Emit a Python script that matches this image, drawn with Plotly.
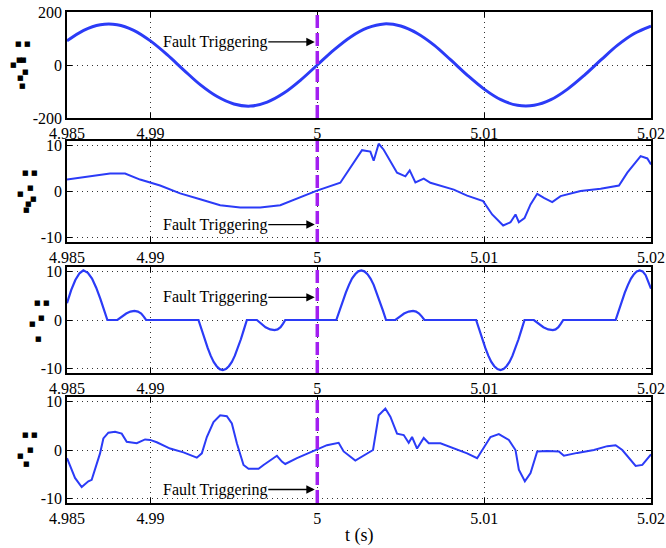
import plotly.graph_objects as go

# ---------------- data ----------------
t1 = [4.985 + 0.001 * k for k in range(36)]
v1 = [91, 131, 152, 152, 131, 91, 39, -19, -75, -119, -147, -155, -140, -106, -57, 0,
      57, 106, 140, 155, 147, 119, 75, 19, -39, -91, -131, -152, -152, -131, -91, -39,
      19, 75, 119, 147]

t2 = [4.98500, 4.98638, 4.98758, 4.98848, 4.98938, 4.99058, 4.99178, 4.99298, 4.99418,
      4.99538, 4.99658, 4.99778, 4.99898, 4.99998, 5.00138, 5.00218, 5.00268, 5.00318,
      5.00338, 5.00368, 5.00398, 5.00478, 5.00528, 5.00554, 5.00588, 5.00638, 5.00678,
      5.00818, 5.00898, 5.00994, 5.01048, 5.01114, 5.01158, 5.01188, 5.01208, 5.01242,
      5.01278, 5.01318, 5.01358, 5.01408, 5.01458, 5.01578, 5.01698, 5.01808, 5.01858,
      5.01938, 5.01978, 5.02000]
v2 = [2.6, 3.3, 3.9, 3.9, 2.6, 1.3, -0.4, -1.7, -3.0,
      -3.5, -3.5, -3.0, -1.3, 0.2, 1.9, 6.2, 9.0, 8.7,
      6.7, 10.4, 9.1, 4.1, 3.3, 4.6, 2.0, 2.8, 1.9,
      0.4, -0.9, -2.1, -5.0, -7.4, -6.7, -5.0, -6.7, -5.8,
      -2.8, -0.5, -1.4, -2.3, -1.0, 0.1, 0.6, 1.3, 4.1,
      7.7, 7.2, 5.9]

t3 = [4.98500, 4.98525, 4.98550, 4.98575, 4.98598, 4.98625, 4.98650, 4.98675, 4.98700,
      4.98722, 4.98742, 4.98802, 4.98830, 4.98855, 4.98880, 4.98904, 4.98925, 4.98945,
      4.98960, 4.98974, 4.99288, 4.99306, 4.99325, 4.99343, 4.99361, 4.99379, 4.99397,
      4.99415, 4.99434, 4.99452, 4.99470, 4.99488, 4.99506, 4.99524, 4.99542, 4.99560,
      4.99578, 4.99638, 4.99665, 4.99690, 4.99718, 4.99744, 4.99762, 4.99780, 4.99795,
      4.99808, 5.00114, 5.00133, 5.00152, 5.00171, 5.00190, 5.00208, 5.00227, 5.00245,
      5.00264, 5.00282, 5.00301, 5.00319, 5.00338, 5.00356, 5.00375, 5.00393, 5.00412,
      5.00468, 5.00495, 5.00520, 5.00548, 5.00574, 5.00592, 5.00610, 5.00627, 5.00642,
      5.00952, 5.00970, 5.00988, 5.01007, 5.01025, 5.01043, 5.01061, 5.01080, 5.01098,
      5.01116, 5.01134, 5.01152, 5.01170, 5.01188, 5.01206, 5.01224, 5.01242, 5.01298,
      5.01326, 5.01355, 5.01384, 5.01412, 5.01428, 5.01445, 5.01460, 5.01474, 5.01788,
      5.01806, 5.01825, 5.01843, 5.01862, 5.01880, 5.01898, 5.01915, 5.01932, 5.01950,
      5.01968, 5.01985, 5.02000]
v3 = [3.5, 6.2, 8.3, 9.7, 10.3, 9.8, 8.6, 6.7, 4.4,
      2.0, 0, 0, 0.7, 1.35, 1.75, 1.9, 1.75, 1.35,
      0.7, 0, 0, -2.0, -4.0, -5.8, -7.4, -8.7, -9.6,
      -10.2, -10.4, -10.2, -9.6, -8.7, -7.4, -5.8, -4.0, -2.0,
      0, 0, -0.75, -1.5, -1.95, -2.1, -1.95, -1.5, -0.75,
      0, 0, 2.0, 3.9, 5.7, 7.3, 8.6, 9.5, 10.1,
      10.3, 10.1, 9.5, 8.6, 7.3, 5.7, 3.9, 2.0, 0,
      0, 0.7, 1.35, 1.75, 1.9, 1.75, 1.35, 0.7, 0,
      0, -2.0, -4.0, -5.8, -7.4, -8.7, -9.6, -10.2, -10.4,
      -10.2, -9.6, -8.7, -7.4, -5.8, -4.0, -2.0, 0, 0,
      -0.75, -1.5, -1.95, -2.1, -1.95, -1.5, -0.75, 0, 0,
      2.0, 3.9, 5.7, 7.3, 8.6, 9.5, 10.1, 10.3, 10.1,
      9.3, 8.0, 6.5]

t4 = [4.98500, 4.98548, 4.98588, 4.98628, 4.98648, 4.98678, 4.98698, 4.98718, 4.98748,
      4.98788, 4.98828, 4.98858, 4.98918, 4.98968, 4.98998, 4.99038, 4.99118, 4.99198,
      4.99278, 4.99308, 4.99338, 4.99378, 4.99418, 4.99458, 4.99488, 4.99518, 4.99558,
      4.99588, 4.99648, 4.99678, 4.99718, 4.99758, 4.99788, 4.99808, 4.99878, 4.99998,
      5.00058, 5.00128, 5.00158, 5.00228, 5.00298, 5.00334, 5.00368, 5.00408, 5.00438,
      5.00478, 5.00518, 5.00548, 5.00568, 5.00598, 5.00638, 5.00668, 5.00738, 5.00818,
      5.00898, 5.00958, 5.00988, 5.01038, 5.01088, 5.01148, 5.01188, 5.01208, 5.01244,
      5.01278, 5.01318, 5.01378, 5.01448, 5.01478, 5.01558, 5.01658, 5.01738, 5.01788,
      5.01828, 5.01878, 5.01908, 5.01948, 5.02000]
v4 = [-1.7, -5.8, -7.7, -6.5, -6.2, -2.7, -0.7, 2.4, 3.6,
      3.8, 3.4, 1.7, 1.4, 2.2, 2.1, 1.6, 0.3, -0.5,
      -1.6, -0.7, 2.7, 5.8, 7.2, 7.0, 5.5, 1.4, -3.1,
      -3.9, -3.9, -3.1, -2.1, -1.2, -2.4, -2.9, -1.7, 0.0,
      1.0, 1.5, -0.3, -2.2, -0.7, 0.0, 7.2, 8.6, 6.9,
      3.4, 3.1, 1.5, 2.7, 0.3, 2.5, 1.4, 1.4, 0.3,
      -0.7, -1.7, 0.0, 2.7, 3.3, 2.1, 0.0, -4.1, -6.5,
      -4.8, -0.3, -0.2, -0.3, -1.2, -0.6, 0.0, 0.8, 1.0,
      0.0, -2.1, -3.3, -3.1, -0.9]

x_ticks = [4.985, 4.99, 5.0, 5.01, 5.02]
x_tick_labels = ["4.985", "4.99", "5", "5.01", "5.02"]
y_ticks_1 = [-200, 0, 200]
y_labels_1 = ["-200", "0", "200"]
y_ticks_2 = [-10, 0, 10]
y_labels_2 = ["-10", "0", "10"]
fault_time = 5.0
note_text = "Fault Triggering"
note_y = [87, -7.2, 4.7, -8.2]
x_title = "t (s)"

# ---------------- layout helpers ----------------
W, H = 666, 548
ML, MR, MT, MB = 67, 15, 12, 45
PW, PH = W - ML - MR, H - MT - MB

def px(x):
    return (x - ML) / PW

def py(y):
    return (H - MB - y) / PH

domains = [[py(118), 1.0], [py(242), py(141)], [py(373), py(267)], [0.0, py(397)]]
series = [(t1, v1, 3, "spline"), (t2, v2, 2, "linear"), (t3, v3, 2.2, "linear"),
          (t4, v4, 2, "linear")]
yranges = [[-200, 200], [-11, 11], [-11, 11], [-11, 11]]

FONT = "Liberation Serif"
BLUE = "#2b3bf7"
PURPLE = "#a21ff0"

fig = go.Figure()
for i, (tx, vy, lw, shp) in enumerate(series):
    n = "" if i == 0 else str(i + 1)
    fig.add_trace(go.Scatter(
        x=tx, y=vy, mode="lines", xaxis="x" + n, yaxis="y" + n,
        line=dict(color=BLUE, width=lw, shape=shp),
        showlegend=False, hoverinfo="skip"))

axis_common = dict(
    showline=True, linecolor="black", linewidth=1.6, mirror="ticks",
    ticks="inside", ticklen=5, tickwidth=1, tickcolor="black",
    showgrid=True, gridcolor="#333", griddash="1px,4px", gridwidth=1,
    zeroline=False, automargin=False,
    tickfont=dict(family=FONT, size=16, color="black"),
)

lay = {}
for i in range(4):
    n = "" if i == 0 else str(i + 1)
    lay["xaxis" + n] = dict(axis_common, domain=[0, 1], range=[4.985, 5.02],
                            tickvals=x_ticks, ticktext=x_tick_labels,
                            anchor="y" + n)
    yt = y_ticks_1 if i == 0 else y_ticks_2
    yl = y_labels_1 if i == 0 else y_labels_2
    lay["yaxis" + n] = dict(axis_common, domain=domains[i], range=yranges[i],
                            tickvals=yt, ticktext=yl, anchor="x" + n)

shapes = []
annotations = []
for i in range(4):
    n = "" if i == 0 else str(i + 1)
    shapes.append(dict(type="line", xref="x" + n, yref="y" + n + " domain",
                       x0=fault_time, x1=fault_time, y0=0, y1=1,
                       line=dict(color=PURPLE, width=3.5, dash="13px,5px")))
    annotations.append(dict(
        x=fault_time - 0.00015, y=note_y[i], xref="x" + n, yref="y" + n,
        text=note_text, showarrow=True, ax=-100, ay=0,
        arrowhead=2, arrowsize=1.3, arrowwidth=1.3, arrowcolor="black",
        font=dict(family=FONT, size=16, color="black")))

# tofu-like label glyphs (unrenderable y-axis labels) as text squares
glyphs = [
    (18, 44), (27, 44), (19, 60), (23, 60), (13, 65), (25, 72), (20, 78), (22, 86),
    (25, 173), (34, 173), (30, 188), (20, 194), (33, 199), (28, 204), (26, 210),
    (37, 303), (46, 303), (41, 318), (32, 324), (38, 339),
    (25, 435), (34, 435), (30, 450), (20, 456), (26, 464),
]
for gx, gy in glyphs:
    annotations.append(dict(x=px(gx), y=py(gy), xref="paper", yref="paper",
                            text="■", showarrow=False,
                            xanchor="center", yanchor="middle",
                            font=dict(family="DejaVu Sans", size=7, color="black")))

annotations.append(dict(x=px(359), y=py(535), xref="paper", yref="paper",
                        text=x_title, showarrow=False,
                        xanchor="center", yanchor="middle",
                        font=dict(family=FONT, size=18, color="black")))

fig.update_layout(
    width=W, height=H, margin=dict(l=ML, r=MR, t=MT, b=MB, autoexpand=False),
    paper_bgcolor="white", plot_bgcolor="white",
    shapes=shapes, annotations=annotations, **lay)

fig.write_html("out.html", config={"displayModeBar": False},
               post_script="document.body.style.margin='0';"
                           "document.body.style.overflow='hidden';")
